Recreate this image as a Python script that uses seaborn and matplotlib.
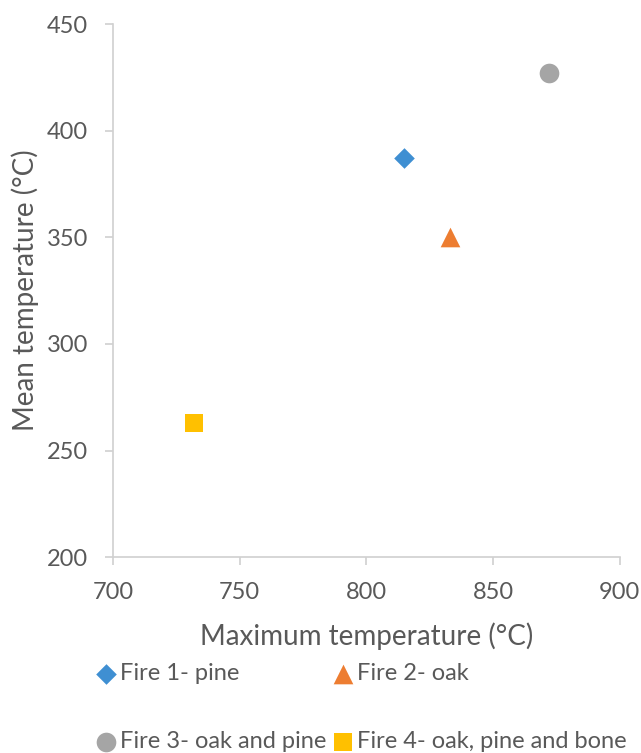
import pandas as pd
import seaborn as sns
import matplotlib.pyplot as plt

# === Datos ===
fires = ["Fire 1- pine", "Fire 2- oak", "Fire 3- oak and pine", "Fire 4- oak, pine and bone"]
max_temp = [815, 833, 872, 732]
mean_temp = [387, 350, 427, 263]

colores = ["#3F8FD2", "#ED7D31", "#A5A5A5", "#FFC000"]
marcadores = ["D", "^", "o", "s"]

df = pd.DataFrame({"fire": fires, "max_temp": max_temp, "mean_temp": mean_temp})

sns.set_style("white")
plt.rcParams["font.family"] = ["Lato", "DejaVu Sans"]

fig = plt.figure(figsize=(6.41, 7.53), dpi=100)
ax = fig.add_axes([0.176, 0.260, 0.791, 0.708])

tamanos = {"D": 110, "^": 200, "o": 200, "s": 170}
for fire, x, y, c, m in zip(fires, max_temp, mean_temp, colores, marcadores):
    sns.scatterplot(x=[x], y=[y], ax=ax, color=c, marker=m, s=tamanos[m],
                    linewidth=0, label=fire)

ax.set_xlim(700, 900)
ax.set_ylim(200, 450)
ax.set_xticks([700, 750, 800, 850, 900])
ax.set_yticks([200, 250, 300, 350, 400, 450])

gris = "#595959"
for lado in ["top", "right"]:
    ax.spines[lado].set_visible(False)
for lado in ["left", "bottom"]:
    ax.spines[lado].set_color("#D0D0D0")
    ax.spines[lado].set_linewidth(1.2)
ax.tick_params(axis="both", which="both", direction="out", length=6, width=1.2,
               color="#D0D0D0", labelcolor=gris, labelsize=17, pad=12,
               bottom=True, left=True)

ax.set_xlabel("Maximum temperature (°C)", fontsize=20, color=gris, labelpad=14)
ax.set_ylabel("Mean temperature (°C)", fontsize=20, color=gris, labelpad=5)

# orden por filas como en la leyenda original
handles, labels = ax.get_legend_handles_labels()
ax.get_legend().remove()
orden = [0, 2, 1, 3]
fig.legend([handles[i] for i in orden], [labels[i] for i in orden],
           loc="upper left", bbox_to_anchor=(0.114, 0.148),
           ncol=2, frameon=False, fontsize=17, labelcolor=gris,
           handletextpad=0.1, columnspacing=0.2, labelspacing=2.0,
           handlelength=1.0)

plt.savefig("out.png", dpi=100)
plt.close()
